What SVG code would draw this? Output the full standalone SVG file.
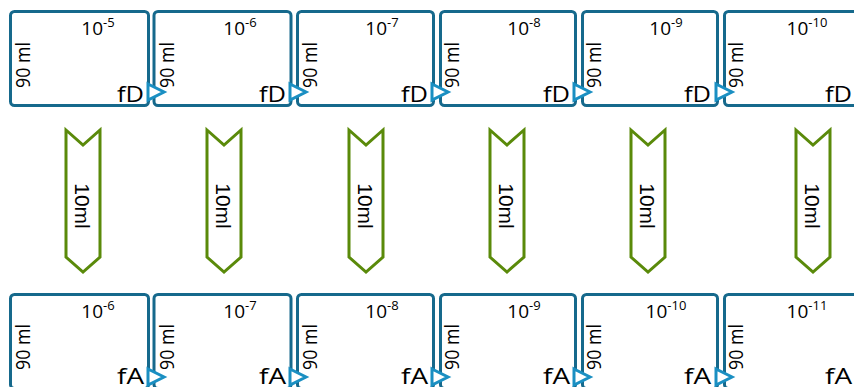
<svg xmlns="http://www.w3.org/2000/svg" width="854" height="387" viewBox="0 0 854 387">
  <style>
    .box { fill: #ffffff; stroke: #16698c; stroke-width: 3; }
    .tri { fill: #ffffff; stroke: #1a8fc2; stroke-width: 3; stroke-linejoin: miter; }
    .flow { fill: #ffffff; stroke: #5a8a0a; stroke-width: 3; stroke-linejoin: miter; }
    .t { font-family: "Open Sans", "Noto Sans", sans-serif; fill: #000000; }
    .exp { font-size: 19px; text-anchor: middle; }
    .sup { font-size: 13px; }
    .vol { font-size: 20px; text-anchor: middle; }
    .tag { font-size: 22px; text-anchor: end; }
    .ml { font-family: "Liberation Sans", Arial, sans-serif; font-size: 21px; text-anchor: middle; fill: #000000; }
  </style>
  <defs>
    <polygon id="flowArrow" class="flow" points="-17,0 0,15 17,0 17,127 0,142 -17,127"/>
    <polygon id="outTri" class="tri" points="0,-8 16,0 0,8"/>
  </defs>

  <!-- top row: dilution tubes 10^-5 .. 10^-10 -->
  <g id="d5">
    <rect class="box" x="10.5" y="11.5" width="138" height="94" rx="4"/>
    <text class="t exp" x="98" y="35">10<tspan class="sup" dy="-8">-5</tspan></text>
    <text class="t vol" transform="translate(30,65) rotate(-90)" textLength="46" lengthAdjust="spacingAndGlyphs">90 ml</text>
    <text class="t tag" x="144" y="102" textLength="27" lengthAdjust="spacingAndGlyphs">fD</text>
  </g>
  <g id="d6">
    <rect class="box" x="154" y="11.5" width="137" height="94" rx="4"/>
    <text class="t exp" x="240" y="35">10<tspan class="sup" dy="-8">-6</tspan></text>
    <text class="t vol" transform="translate(174,65) rotate(-90)" textLength="46" lengthAdjust="spacingAndGlyphs">90 ml</text>
    <text class="t tag" x="286" y="102" textLength="27" lengthAdjust="spacingAndGlyphs">fD</text>
  </g>
  <g id="d7">
    <rect class="box" x="297.5" y="11.5" width="136" height="94" rx="4"/>
    <text class="t exp" x="382" y="35">10<tspan class="sup" dy="-8">-7</tspan></text>
    <text class="t vol" transform="translate(317,65) rotate(-90)" textLength="46" lengthAdjust="spacingAndGlyphs">90 ml</text>
    <text class="t tag" x="428" y="102" textLength="27" lengthAdjust="spacingAndGlyphs">fD</text>
  </g>
  <g id="d8">
    <rect class="box" x="440.5" y="11.5" width="135" height="94" rx="4"/>
    <text class="t exp" x="524" y="35">10<tspan class="sup" dy="-8">-8</tspan></text>
    <text class="t vol" transform="translate(459,65) rotate(-90)" textLength="46" lengthAdjust="spacingAndGlyphs">90 ml</text>
    <text class="t tag" x="570" y="102" textLength="27" lengthAdjust="spacingAndGlyphs">fD</text>
  </g>
  <g id="d9">
    <rect class="box" x="582.5" y="11.5" width="135" height="94" rx="4"/>
    <text class="t exp" x="666" y="35">10<tspan class="sup" dy="-8">-9</tspan></text>
    <text class="t vol" transform="translate(601,65) rotate(-90)" textLength="46" lengthAdjust="spacingAndGlyphs">90 ml</text>
    <text class="t tag" x="711" y="102" textLength="27" lengthAdjust="spacingAndGlyphs">fD</text>
  </g>
  <g id="d10">
    <rect class="box" x="724.5" y="11.5" width="140" height="94" rx="4"/>
    <text class="t exp" x="807" y="35">10<tspan class="sup" dy="-8">-10</tspan></text>
    <text class="t vol" transform="translate(743,65) rotate(-90)" textLength="46" lengthAdjust="spacingAndGlyphs">90 ml</text>
    <text class="t tag" x="852" y="102" textLength="27" lengthAdjust="spacingAndGlyphs">fD</text>
  </g>

  <!-- bottom row: tubes 10^-6 .. 10^-11 -->
  <g id="a6">
    <rect class="box" x="10.5" y="294.5" width="138" height="94" rx="4"/>
    <text class="t exp" x="98" y="318">10<tspan class="sup" dy="-8">-6</tspan></text>
    <text class="t vol" transform="translate(30,347) rotate(-90)" textLength="46" lengthAdjust="spacingAndGlyphs">90 ml</text>
    <text class="t tag" x="144" y="384" textLength="27" lengthAdjust="spacingAndGlyphs">fA</text>
  </g>
  <g id="a7">
    <rect class="box" x="154" y="294.5" width="137" height="94" rx="4"/>
    <text class="t exp" x="240" y="318">10<tspan class="sup" dy="-8">-7</tspan></text>
    <text class="t vol" transform="translate(174,347) rotate(-90)" textLength="46" lengthAdjust="spacingAndGlyphs">90 ml</text>
    <text class="t tag" x="286" y="384" textLength="27" lengthAdjust="spacingAndGlyphs">fA</text>
  </g>
  <g id="a8">
    <rect class="box" x="297.5" y="294.5" width="136" height="94" rx="4"/>
    <text class="t exp" x="382" y="318">10<tspan class="sup" dy="-8">-8</tspan></text>
    <text class="t vol" transform="translate(317,347) rotate(-90)" textLength="46" lengthAdjust="spacingAndGlyphs">90 ml</text>
    <text class="t tag" x="428" y="384" textLength="27" lengthAdjust="spacingAndGlyphs">fA</text>
  </g>
  <g id="a9">
    <rect class="box" x="440.5" y="294.5" width="135" height="94" rx="4"/>
    <text class="t exp" x="524" y="318">10<tspan class="sup" dy="-8">-9</tspan></text>
    <text class="t vol" transform="translate(459,347) rotate(-90)" textLength="46" lengthAdjust="spacingAndGlyphs">90 ml</text>
    <text class="t tag" x="570" y="384" textLength="27" lengthAdjust="spacingAndGlyphs">fA</text>
  </g>
  <g id="a10">
    <rect class="box" x="582.5" y="294.5" width="135" height="94" rx="4"/>
    <text class="t exp" x="666" y="318">10<tspan class="sup" dy="-8">-10</tspan></text>
    <text class="t vol" transform="translate(601,347) rotate(-90)" textLength="46" lengthAdjust="spacingAndGlyphs">90 ml</text>
    <text class="t tag" x="711" y="384" textLength="27" lengthAdjust="spacingAndGlyphs">fA</text>
  </g>
  <g id="a11">
    <rect class="box" x="724.5" y="294.5" width="140" height="94" rx="4"/>
    <text class="t exp" x="807" y="318">10<tspan class="sup" dy="-8">-11</tspan></text>
    <text class="t vol" transform="translate(743,347) rotate(-90)" textLength="46" lengthAdjust="spacingAndGlyphs">90 ml</text>
    <text class="t tag" x="852" y="384" textLength="27" lengthAdjust="spacingAndGlyphs">fA</text>
  </g>

  <!-- connectors: outlet markers and 10 ml transfers -->
  <g id="connectors">
    <use href="#outTri" x="148" y="92"/>
    <use href="#outTri" x="290" y="92"/>
    <use href="#outTri" x="432" y="92"/>
    <use href="#outTri" x="574" y="92"/>
    <use href="#outTri" x="716" y="92"/>
    <use href="#outTri" x="148" y="377"/>
    <use href="#outTri" x="290" y="377"/>
    <use href="#outTri" x="432" y="377"/>
    <use href="#outTri" x="574" y="377"/>
    <use href="#outTri" x="716" y="377"/>

    <g>
      <use href="#flowArrow" x="83" y="130"/>
      <text class="ml" transform="translate(75,206) rotate(90)">10ml</text>
    </g>
    <g>
      <use href="#flowArrow" x="224" y="130"/>
      <text class="ml" transform="translate(216,206) rotate(90)">10ml</text>
    </g>
    <g>
      <use href="#flowArrow" x="366" y="130"/>
      <text class="ml" transform="translate(358,206) rotate(90)">10ml</text>
    </g>
    <g>
      <use href="#flowArrow" x="507" y="130"/>
      <text class="ml" transform="translate(499,206) rotate(90)">10ml</text>
    </g>
    <g>
      <use href="#flowArrow" x="648" y="130"/>
      <text class="ml" transform="translate(640,206) rotate(90)">10ml</text>
    </g>
    <g>
      <use href="#flowArrow" x="813" y="130"/>
      <text class="ml" transform="translate(805,206) rotate(90)">10ml</text>
    </g>
  </g>
</svg>
